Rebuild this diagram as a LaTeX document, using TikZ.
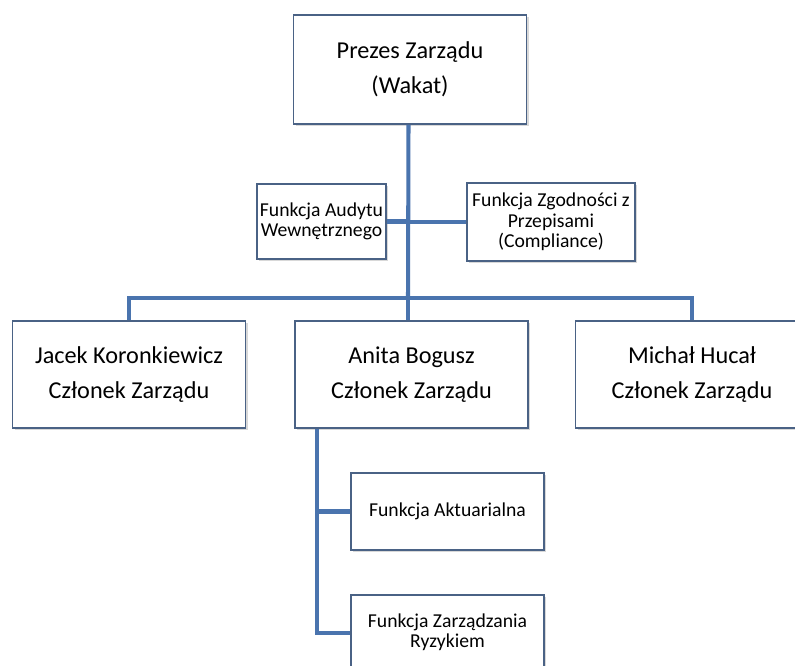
\documentclass[tikz,border=0pt]{standalone}
\usepackage{fontspec}
\setmainfont{Carlito}
\usetikzlibrary{positioning, shadows}
\definecolor{boxedge}{HTML}{4A6285}
\definecolor{linkblue}{HTML}{4A74AE}

\begin{document}
\begin{tikzpicture}[
  x=0.02cm, y=-0.02cm,      % one unit = one pixel of the layout
  bigbox/.style={draw=boxedge, line width=1.1pt, fill=white, align=center,
    minimum width=4.66cm, minimum height=2.14cm, inner sep=0pt,
    font=\fontsize{13.8}{20}\selectfont,
    drop shadow={shadow xshift=1.2pt, shadow yshift=-1.2pt, fill=black!30}},
  smallbox/.style={bigbox, font=\fontsize{11.2}{11.6}\selectfont},
  link/.style={draw=linkblue, line width=2.3pt}
]
  \clip (0,0) rectangle (795,666);
  \fill[white] (0,0) rectangle (795,666);

  % Board chairman
  \node[bigbox, minimum height=2.18cm] (prezes) at (410,69.5) {Prezes Zarządu\\(Wakat)};

  % Control functions
  \node[smallbox, minimum width=2.58cm, minimum height=1.5cm] (audyt) at (321.5,221.5)
    {Funkcja Audytu\\Wewnętrznego};
  \node[smallbox, minimum width=3.36cm, minimum height=1.56cm] (zgodnosc) at (551,222)
    {Funkcja Zgodności z\\Przepisami\\(Compliance)};

  % Board members
  \node[bigbox] (jacek)  at (129,374.5) {Jacek Koronkiewicz\\Członek Zarządu};
  \node[bigbox] (anita)  at (411.5,374.5) {Anita Bogusz\\Członek Zarządu};
  \node[bigbox] (michal) at (692,374.5) {Michał Hucał\\Członek Zarządu};

  % Functions under Anita Bogusz
  \node[smallbox, minimum width=3.86cm, minimum height=1.54cm] (aktuar) at (447.5,511.5)
    {Funkcja Aktuarialna};
  \node[smallbox, minimum width=3.86cm, minimum height=1.54cm, anchor=north] (ryzyko)
    at (447.5,594) {};
  \node[font=\fontsize{11.2}{11.6}\selectfont, align=center] (ryzykotxt) at (447.5,632)
    {Funkcja Zarządzania\\Ryzykiem};

  % Connectors
  \coordinate (hub) at (408,298);
  \draw[link] ([xshift=-0.03cm]prezes.south) -- (hub);
  \draw[link] (audyt.east) -- (audyt.east -| hub);
  \draw[link] (zgodnosc.west) -- (zgodnosc.west -| hub);
  \draw[link] (hub) -| (jacek.north);
  \draw[link] (hub) -| (michal.north);
  \draw[link] (hub) -- (anita.north -| hub);
  \draw[link] ([xshift=0.46cm]anita.south west) |- (ryzyko.west);
  \draw[link] ([xshift=0.46cm]anita.south west |- aktuar.west) -- (aktuar.west);
\end{tikzpicture}
\end{document}
